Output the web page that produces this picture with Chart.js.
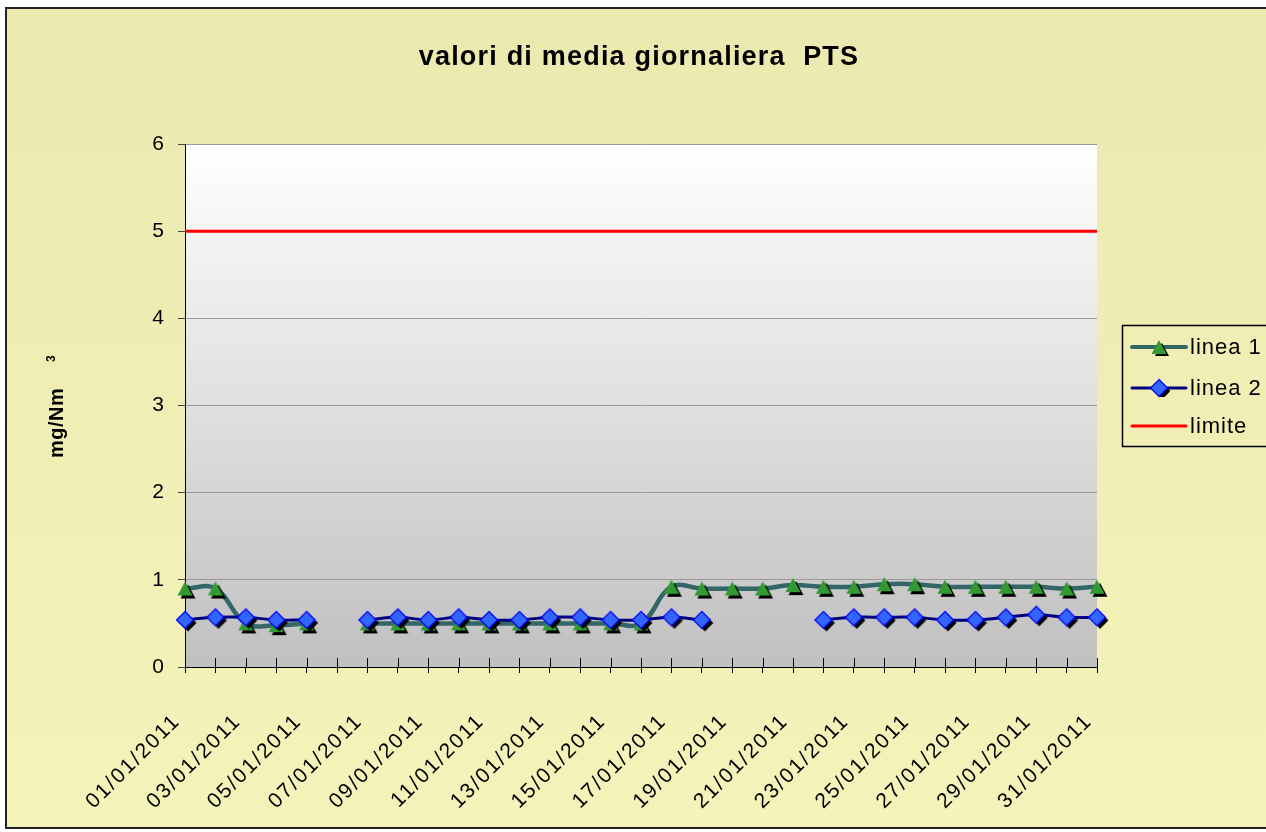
<!DOCTYPE html>
<html>
<head>
<meta charset="utf-8">
<script src="https://cdn.jsdelivr.net/npm/chart.js@4.4.1/dist/chart.umd.min.js"></script>
<style>
  body { margin: 0; background: #fff; }
  canvas { display: block; }
</style>
</head>
<body>
<canvas id="main" width="1266" height="832"></canvas>
<script>
// dati (gennaio 2011)
const dates = [
    '01/01/2011', '02/01/2011', '03/01/2011', '04/01/2011', '05/01/2011', '06/01/2011',
    '07/01/2011', '08/01/2011', '09/01/2011', '10/01/2011', '11/01/2011', '12/01/2011',
    '13/01/2011', '14/01/2011', '15/01/2011', '16/01/2011', '17/01/2011', '18/01/2011',
    '19/01/2011', '20/01/2011', '21/01/2011', '22/01/2011', '23/01/2011', '24/01/2011',
    '25/01/2011', '26/01/2011', '27/01/2011', '28/01/2011', '29/01/2011', '30/01/2011',
    '31/01/2011'
];
const linea1 = [0.9, 0.9, 0.5, 0.48, 0.5, null, 0.5, 0.5, 0.5, 0.5, 0.5, 0.5, 0.5, 0.5, 0.5, 0.5,
    0.92, 0.9, 0.9, 0.9, 0.94, 0.92, 0.92, 0.95, 0.95, 0.92, 0.92, 0.92, 0.92, 0.9, 0.92];
const linea2 = [0.54, 0.57, 0.57, 0.54, 0.54, null, 0.54, 0.57, 0.54, 0.57, 0.54, 0.54, 0.57, 0.57, 0.54, 0.54,
    0.57, 0.54, null, null, null, 0.54, 0.57, 0.57, 0.57, 0.54, 0.54, 0.57, 0.6, 0.57, 0.57];
const limite = [5, 5, 5, 5, 5, 5, 5, 5, 5, 5, 5, 5, 5, 5, 5, 5,
    5, 5, 5, 5, 5, 5, 5, 5, 5, 5, 5, 5, 5, 5, 5];
const yMin = 0;
const yMax = 6;

const FONT = "'Liberation Sans', Arial, sans-serif";

// marker con ombra nera, come in Excel
function makeMarker(shape) {
    const c = document.createElement('canvas');
    c.width = 26;
    c.height = 26;
    const g = c.getContext('2d');
    const path = (dx, dy) => {
        g.beginPath();
        if (shape === 'triangle') {
            g.moveTo(13 + dx, 6 + dy);
            g.lineTo(20.5 + dx, 20 + dy);
            g.lineTo(5.5 + dx, 20 + dy);
        } else {
            g.moveTo(13 + dx, 4.5 + dy);
            g.lineTo(21.5 + dx, 13 + dy);
            g.lineTo(13 + dx, 21.5 + dy);
            g.lineTo(4.5 + dx, 13 + dy);
        }
        g.closePath();
    };
    path(3, 3);
    g.fillStyle = '#000';
    g.fill();
    path(0, 0);
    if (shape === 'triangle') {
        g.fillStyle = '#339933';
        g.fill();
    } else {
        g.fillStyle = '#3366ff';
        g.fill();
        g.strokeStyle = '#0000ff';
        g.lineWidth = 1.2;
        g.stroke();
    }
    return c;
}
const triangleImg = makeMarker('triangle');
const diamondImg = makeMarker('diamond');

const sfondo = {
    id: 'sfondo',
    beforeDraw(chart) {
        const ctx = chart.ctx;
        const a = chart.chartArea;
        ctx.save();
        ctx.fillStyle = '#fff';
        ctx.fillRect(0, 0, chart.width, chart.height);
        let gr = ctx.createLinearGradient(0, 8, 0, 828);
        gr.addColorStop(0, '#ebe9af');
        gr.addColorStop(1, '#f4f3ba');
        ctx.fillStyle = gr;
        ctx.fillRect(6, 8, chart.width, 820);
        ctx.strokeStyle = '#222';
        ctx.lineWidth = 2;
        ctx.strokeRect(6, 8, chart.width + 10, 820);
        gr = ctx.createLinearGradient(0, a.top, 0, a.bottom);
        gr.addColorStop(0, '#ffffff');
        gr.addColorStop(1, '#c0c0c0');
        ctx.fillStyle = gr;
        ctx.fillRect(a.left, a.top, a.right - a.left, a.bottom - a.top);
        ctx.restore();
        ctx.letterSpacing = '2px';
    },
    afterDraw(chart) {
        const ctx = chart.ctx;
        const a = chart.chartArea;
        const xs = chart.scales.x;
        ctx.save();
        // tacche interne dell'asse x
        ctx.strokeStyle = '#000';
        ctx.lineWidth = 1;
        xs.ticks.forEach((t, i) => {
            const px = Math.round(xs.getPixelForTick(i)) + 0.5;
            ctx.beginPath();
            ctx.moveTo(px, a.bottom);
            ctx.lineTo(px, a.bottom - 9);
            ctx.stroke();
        });

        // titolo
        ctx.fillStyle = '#000';
        ctx.letterSpacing = '1.2px';
        ctx.font = 'bold 27px ' + FONT;
        ctx.textAlign = 'center';
        ctx.textBaseline = 'alphabetic';
        ctx.fillText('valori di media giornaliera  PTS', 639, 65);

        // titolo asse y
        ctx.save();
        ctx.translate(63, 458);
        ctx.rotate(-Math.PI / 2);
        ctx.textAlign = 'left';
        ctx.letterSpacing = '0.5px';
        ctx.font = 'bold 20px ' + FONT;
        ctx.fillText('mg/Nm', 0, 0);
        ctx.font = 'bold 12px ' + FONT;
        ctx.fillText('3', 96, -8);
        ctx.restore();

        // legenda
        const lx = 1122, ly = 325;
        ctx.fillStyle = '#f0eeb4';
        ctx.fillRect(lx, ly, 160, 121);
        ctx.strokeStyle = '#000';
        ctx.lineWidth = 1.5;
        ctx.strokeRect(lx + 0.5, ly + 0.5, 160, 121);
        const items = [
            { text: chart.data.datasets[0].label, y: 347, color: '#336666', w: 4, img: triangleImg },
            { text: chart.data.datasets[1].label, y: 388, color: '#000080', w: 3, img: diamondImg },
            { text: chart.data.datasets[2].label, y: 426, color: '#ff0000', w: 3, img: null }
        ];
        ctx.lineCap = 'round';
        items.forEach(it => {
            ctx.strokeStyle = it.color;
            ctx.lineWidth = it.w;
            ctx.beginPath();
            ctx.moveTo(1132, it.y);
            ctx.lineTo(1186, it.y);
            ctx.stroke();
            if (it.img) {
                ctx.save();
                ctx.beginPath();
                ctx.rect(1150, it.y - 13, 20, 13 + 9);
                ctx.clip();
                ctx.drawImage(it.img, 1159 - 13, it.y - 13);
                ctx.restore();
            }
            ctx.fillStyle = '#000';
            ctx.font = '22px ' + FONT;
            ctx.letterSpacing = '1px';
            ctx.textAlign = 'left';
            ctx.textBaseline = 'middle';
            ctx.fillText(it.text, 1190, it.y + 1);
        });
        ctx.restore();
    }
};

window.onload = function() {
    const main = document.getElementById('main').getContext('2d');
    new Chart(main, {
        type: 'line',
        data: {
            labels: dates,
            datasets: [{
                label: 'linea 1',
                data: linea1,
                borderColor: '#336666',
                backgroundColor: '#339933',
                borderWidth: 4.5,
                pointStyle: triangleImg,
                pointRadius: 7,
                tension: 0.4,
                spanGaps: false,
                clip: false,
                order: 3
            }, {
                label: 'linea 2',
                data: linea2,
                borderColor: '#000080',
                backgroundColor: '#3366ff',
                borderWidth: 3,
                pointStyle: diamondImg,
                pointRadius: 8,
                tension: 0.4,
                spanGaps: false,
                clip: false,
                order: 2
            }, {
                label: 'limite',
                data: limite,
                borderColor: '#ff0000',
                borderWidth: 3,
                pointRadius: 0,
                tension: 0,
                clip: false,
                order: 1
            }]
        },
        options: {
            responsive: false,
            animation: false,
            events: [],
            layout: {
                padding: { top: 144, right: 169, left: 0, bottom: 0 }
            },
            plugins: {
                legend: { display: false },
                title: { display: false },
                tooltip: { enabled: false }
            },
            scales: {
                x: {
                    grid: { drawOnChartArea: false, drawTicks: true, tickLength: 6, color: '#000', tickColor: '#000' },
                    border: { display: true, color: '#000', width: 1 },
                    ticks: {
                        autoSkip: false,
                        minRotation: 45,
                        maxRotation: 45,
                        padding: 36,
                        labelOffset: -8,
                        color: '#000',
                        font: { family: FONT, size: 21 },
                        callback: function(value, index) {
                            return index % 2 === 0 ? this.getLabelForValue(value) : '';
                        }
                    },
                    afterFit: function(scale) { scale.height = 165; }
                },
                y: {
                    min: yMin,
                    max: yMax,
                    grid: { color: '#9a9a9a', tickColor: '#444', tickLength: 7, lineWidth: 1 },
                    border: { display: true, color: '#000', width: 1 },
                    ticks: {
                        stepSize: 1,
                        padding: 12,
                        color: '#000',
                        font: { family: FONT, size: 21 }
                    },
                    afterFit: function(scale) { scale.width = 185; }
                }
            }
        },
        plugins: [sfondo]
    });
};
</script>
</body>
</html>
